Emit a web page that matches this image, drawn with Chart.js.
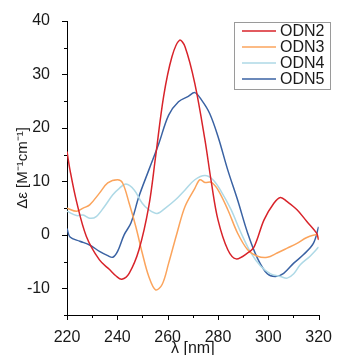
<!DOCTYPE html>
<html><head><meta charset="utf-8">
<script src="https://cdn.jsdelivr.net/npm/chart.js@4/dist/chart.umd.min.js"></script>
<style>html,body{margin:0;padding:0;background:#fff;}canvas{display:block;}</style>
</head><body>
<canvas id="c" width="337" height="355"></canvas>
<script>
const seriesNames = ["ODN2", "ODN3", "ODN4", "ODN5"];
const seriesColors = ["#d8232a", "#fba45c", "#aed9e6", "#3a62a3"];
const x2 = [220, 221.2, 223.8, 227.7, 232.9, 236.9, 239.5, 241.8, 244.7, 248.6, 252.5, 255.2, 258.4, 261.7, 264.7, 266.9, 270.8, 274.8, 277.4, 280, 283.9, 287.2, 291.8, 294.4, 298.3, 302.2, 304.8, 307.5, 311.4, 315.3, 319.2, 320];
const y2 = [15.6, 12.1, 6.2, -0.3, -4.7, -6.5, -7.7, -8.3, -7.2, -2.8, 5.3, 14.6, 25.9, 33.3, 36.4, 35.2, 28.3, 17.8, 9.7, 2.8, -2.8, -4.5, -3.4, -2.2, 2.8, 5.9, 7.0, 6.2, 4.7, 2.5, 0.3, -1.0];
const x3 = [220, 223.8, 226.4, 229, 232.9, 236.2, 240.1, 242.1, 244.7, 247.3, 249.9, 252.5, 255.2, 257.8, 260.4, 263.7, 266.9, 270.8, 272.8, 274.8, 277.4, 280, 283.9, 287.8, 291.8, 295.7, 299.6, 303.5, 307.5, 311.4, 315.3, 319.2, 320];
const y3 = [5.0, 4.4, 5.0, 5.6, 7.8, 9.7, 10.3, 9.7, 5.9, 1.6, -3.4, -7.8, -10.3, -9.3, -5.3, 0.3, 5.3, 8.7, 10.3, 9.8, 9.8, 8.4, 4.7, 0.3, -2.8, -4.0, -4.2, -3.4, -2.5, -1.6, -0.5, 0, -0.8];
const x4 = [220, 223.8, 226.4, 229, 231.6, 234.9, 238.2, 240.8, 243.4, 246.7, 249.9, 252.5, 255.8, 259.1, 263, 266.9, 270.8, 274.8, 278, 281.3, 285.2, 289.2, 293.1, 297, 300.9, 304.8, 307.5, 310.1, 312.7, 316.6, 320];
const y4 = [4.4, 3.6, 3.7, 3.1, 3.4, 5.3, 7.5, 8.7, 9.5, 8.4, 5.9, 4.7, 4.0, 5.0, 6.5, 8.4, 10.3, 11.1, 10.3, 8.1, 4.7, 0.3, -3.4, -5.9, -7.3, -7.8, -8.1, -7.3, -5.6, -4.0, -2.3];
const x5 = [220, 221.2, 225.1, 229, 232.9, 236.2, 238.2, 240.1, 242.7, 245.4, 248.6, 252.5, 256.5, 260.4, 264.3, 268.2, 270.8, 273.5, 276.7, 280, 283.9, 287.8, 291.8, 295.7, 299.6, 302.9, 306.1, 310.1, 314, 317.9, 320];
const y5 = [1.2, -0.4, -1.2, -1.9, -3.1, -3.9, -4.2, -3.1, 0, 2.2, 7.2, 12.1, 17.1, 22.4, 24.9, 25.9, 26.6, 25.2, 22.7, 18.4, 12.1, 6.5, 0.3, -4.4, -7.3, -7.8, -7.2, -5.3, -3.7, -1.6, 1.5];
const xTicks = [220, 240, 260, 280, 300, 320];
const yTicks = [-10, 0, 10, 20, 30, 40];

const xs = [x2, x3, x4, x5];
const ys = [y2, y3, y4, y5];
const FONT = "'Liberation Sans', Arial, sans-serif";

const datasets = seriesNames.map((n, i) => ({
  label: n,
  data: xs[i].map((x, j) => ({x: x, y: ys[i][j]})),
  borderColor: seriesColors[i],
  backgroundColor: seriesColors[i],
  borderWidth: 1.5,
  pointRadius: 0,
  tension: 0.35,
  fill: false
}));

const tickPlugin = {
  id: 'ticksAndLegend',
  afterDraw(chart) {
    const ctx = chart.ctx;
    const sx = chart.scales.x, sy = chart.scales.y;
    ctx.save();
    ctx.strokeStyle = '#000';
    ctx.lineWidth = 1;
    ctx.beginPath();
    for (let v = 220; v <= 320; v += 10) {
      const px = Math.round(sx.getPixelForValue(v)) + 0.5;
      const len = xTicks.includes(v) ? 5 : 3;
      ctx.moveTo(px, sy.bottom);
      ctx.lineTo(px, sy.bottom + len);
    }
    for (let v = -15; v <= 40; v += 5) {
      const py = Math.round(sy.getPixelForValue(v)) + 0.5;
      const len = yTicks.includes(v) ? 5 : 3;
      ctx.moveTo(sx.left, py);
      ctx.lineTo(sx.left - len, py);
    }
    ctx.stroke();
    // legend
    ctx.strokeStyle = '#9a9a9a';
    ctx.lineWidth = 1;
    ctx.strokeRect(234.5, 22.5, 96, 67);
    ctx.font = '16px ' + FONT;
    ctx.textBaseline = 'middle';
    ctx.textAlign = 'left';
    chart.data.datasets.forEach((d, i) => {
      const yy = 31 + i * 16;
      ctx.strokeStyle = d.borderColor;
      ctx.lineWidth = 1.5;
      ctx.beginPath();
      ctx.moveTo(242, yy);
      ctx.lineTo(276, yy);
      ctx.stroke();
      ctx.fillStyle = '#1a1a1a';
      ctx.fillText(d.label, 280, yy + 1);
    });
    ctx.restore();
  }
};

new Chart(document.getElementById('c'), {
  type: 'line',
  data: { datasets },
  options: {
    responsive: false,
    animation: false,
    devicePixelRatio: 1,
    layout: { padding: { top: 21, right: 15, left: 0, bottom: 0 } },
    plugins: { legend: { display: false }, tooltip: { enabled: false } },
    scales: {
      x: {
        type: 'linear', min: 220, max: 320,
        afterFit(s) { s.height = 40; },
        grid: { display: false },
        border: { display: true, color: '#000', width: 1 },
        ticks: { stepSize: 20, padding: 5, color: '#1a1a1a', font: { family: FONT, size: 16 }, maxRotation: 0,
          callback: v => xTicks.includes(v) ? String(v) : '' },
        title: { display: true, text: 'λ [nm]', color: '#1a1a1a', font: { family: FONT, size: 16, lineHeight: 0.8 }, padding: 0 }
      },
      y: {
        type: 'linear', min: -15, max: 40,
        afterFit(s) { s.width = 67; },
        grid: { display: false },
        border: { display: true, color: '#000', width: 1 },
        ticks: { stepSize: 5, padding: 9, color: '#1a1a1a', font: { family: FONT, size: 16 },
          callback: v => yTicks.includes(v) ? String(v) : '' },
        title: { display: true, text: 'Δε [M⁻¹cm⁻¹]', color: '#1a1a1a', font: { family: FONT, size: 15 }, padding: { top: 14, bottom: 0 } }
      }
    }
  },
  plugins: [tickPlugin]
});
</script>
</body></html>
